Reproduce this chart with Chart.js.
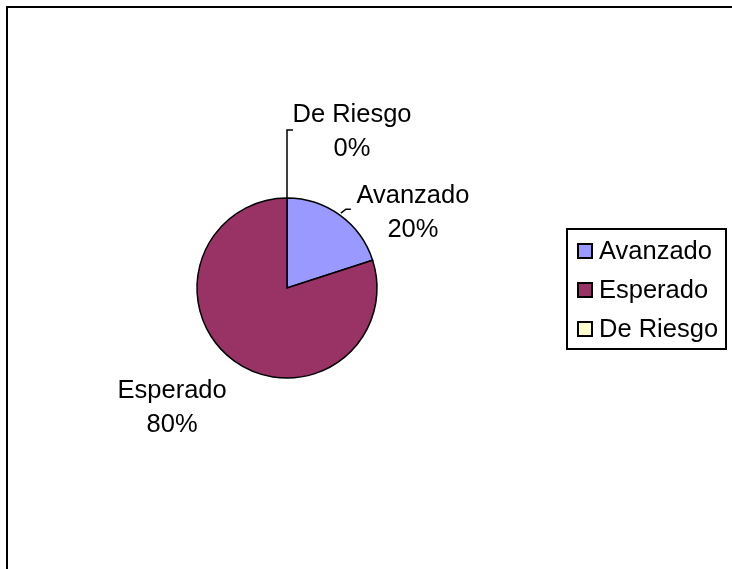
<!DOCTYPE html>
<html>
<head>
<meta charset="utf-8">
<script src="https://cdn.jsdelivr.net/npm/chart.js@4"></script>
<style>
  html, body { margin: 0; padding: 0; background: #fff; }
  #wrap { width: 732px; height: 569px; position: relative; }
</style>
</head>
<body>
<div id="wrap"><canvas id="pie" width="732" height="569"></canvas></div>
<script>
const labels = ["Avanzado", "Esperado", "De Riesgo"];
const values = [20, 80, 0];
const colors = ["#9999FF", "#993366", "#FFFFCC"];

const FONT = "25.5px 'Liberation Sans', Arial, sans-serif";

// where each data label sits, relative to the point on the rim at the slice middle
const labelOffsets = [[73, -2], [-62, 47], [65, -66]];
const LINE_H = 34;

const total = values.reduce((a, b) => a + b, 0);

// frame around the chart (only top/left edges are in view)
const framePlugin = {
  id: "frame",
  beforeDraw(chart) {
    const ctx = chart.ctx;
    ctx.save();
    ctx.fillStyle = "#fff";
    ctx.fillRect(0, 0, chart.width, chart.height);
    ctx.strokeStyle = "#000";
    ctx.lineWidth = 2;
    ctx.strokeRect(7, 7, chart.width + 20, chart.height + 20);
    ctx.restore();
  }
};

// data labels with leader lines
const labelPlugin = {
  id: "pieLabels",
  afterDatasetsDraw(chart) {
    const ctx = chart.ctx;
    const meta = chart.getDatasetMeta(0);
    ctx.save();
    ctx.font = FONT;
    ctx.fillStyle = "#000";
    ctx.textAlign = "center";
    ctx.textBaseline = "middle";
    ctx.strokeStyle = "#000";
    ctx.lineWidth = 1.5;
    meta.data.forEach((arc, i) => {
      const p = arc.getProps(["x", "y", "startAngle", "endAngle", "outerRadius"], true);
      const mid = (p.startAngle + p.endAngle) / 2;
      const ex = p.x + Math.cos(mid) * p.outerRadius;
      const ey = p.y + Math.sin(mid) * p.outerRadius;
      const lx = ex + labelOffsets[i][0];
      const ly = ey + labelOffsets[i][1];
      const pct = Math.round(values[i] / total * 100) + "%";

      // leader line when the label is pulled away from its slice
      if (i === 0) {
        ctx.beginPath();
        ctx.moveTo(ex + 1, ey - 2);
        ctx.lineTo(ex + 6, ey - 6);
        ctx.lineTo(ex + 11, ey - 6);
        ctx.stroke();
      } else if (i === 2) {
        const topY = ly - 2;
        ctx.beginPath();
        ctx.moveTo(ex, ey);
        ctx.lineTo(ex, topY);
        ctx.lineTo(ex + 6, topY);
        ctx.stroke();
      }

      ctx.fillText(labels[i], lx, ly - LINE_H / 2);
      ctx.fillText(pct, lx, ly + LINE_H / 2);
    });
    ctx.restore();
  }
};

// legend box on the right
const legendPlugin = {
  id: "boxLegend",
  afterDraw(chart) {
    const ctx = chart.ctx;
    const ds = chart.data.datasets[0];
    ctx.save();
    ctx.strokeStyle = "#000";
    ctx.lineWidth = 2;
    ctx.strokeRect(567, 229, 159, 120);
    ctx.font = FONT;
    ctx.textAlign = "left";
    ctx.textBaseline = "middle";
    chart.data.labels.forEach((lab, i) => {
      const cy = 251 + i * 39;
      ctx.fillStyle = ds.backgroundColor[i];
      ctx.fillRect(578, cy - 7, 14, 14);
      ctx.lineWidth = 2;
      ctx.strokeRect(578, cy - 7, 14, 14);
      ctx.fillStyle = "#000";
      ctx.fillText(lab, 599, cy + 1);
    });
    ctx.restore();
  }
};

new Chart(document.getElementById("pie"), {
  type: "pie",
  data: {
    labels: labels,
    datasets: [{
      data: values,
      backgroundColor: colors,
      borderColor: "#000",
      borderWidth: 1.5,
      borderJoinStyle: "miter"
    }]
  },
  options: {
    responsive: false,
    animation: false,
    radius: 90,
    layout: { padding: { left: 197, right: 355, top: 198, bottom: 191 } },
    plugins: {
      legend: { display: false },
      tooltip: { enabled: false }
    }
  },
  plugins: [framePlugin, labelPlugin, legendPlugin]
});
</script>
</body>
</html>
